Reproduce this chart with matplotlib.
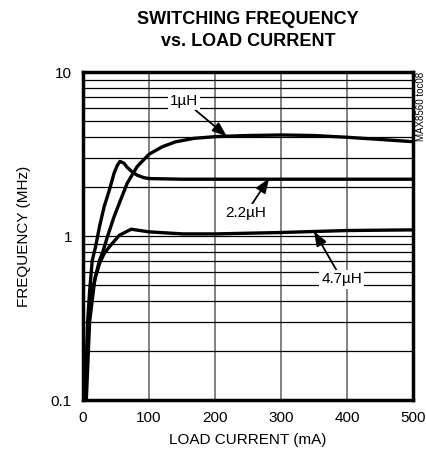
import matplotlib
matplotlib.use("Agg")
import matplotlib.pyplot as plt
from matplotlib.ticker import NullFormatter, LogLocator

# Data
i_1uH = [5, 10, 18, 25, 30, 37, 47, 57, 67, 82, 100, 120, 140, 168, 202, 250, 302, 350, 400, 450, 500]
f_1uH = [0.1, 0.3, 0.55, 0.71, 0.8, 0.99, 1.31, 1.66, 2.10, 2.65, 3.15, 3.5, 3.75, 3.94, 4.04, 4.10, 4.13, 4.10, 4.0, 3.88, 3.76]

i_22uH = [3, 7, 10, 14, 19, 25, 32, 40, 47, 52, 56, 62, 67, 75, 82, 92, 100, 150, 200, 300, 400, 500]
f_22uH = [0.1, 0.3, 0.46, 0.71, 0.86, 1.14, 1.51, 1.91, 2.41, 2.7, 2.85, 2.78, 2.62, 2.45, 2.35, 2.27, 2.24, 2.22, 2.22, 2.22, 2.22, 2.22]

i_47uH = [4, 7, 10, 15, 20, 25, 32, 40, 55, 73, 100, 151, 202, 298, 400, 500]
f_47uH = [0.1, 0.22, 0.35, 0.49, 0.58, 0.68, 0.78, 0.86, 1.01, 1.10, 1.06, 1.03, 1.03, 1.05, 1.08, 1.09]

x_ticks = [0, 100, 200, 300, 400, 500]
y_ticks = [0.1, 1, 10]
y_tick_labels = ["0.1", "1", "10"]

plt.rcParams['font.family'] = ['Liberation Sans Narrow', 'Liberation Sans', 'DejaVu Sans']

fig = plt.figure(figsize=(4.27, 4.61), dpi=100)
ax = fig.add_axes([0.1944, 0.1323, 0.7728, 0.7115])

ax.set_yscale('log')
ax.set_xlim(0, 500)
ax.set_ylim(0.1, 10)

ax.set_xticks(x_ticks)
ax.set_xticklabels([str(v) for v in x_ticks])
ax.set_yticks(y_ticks)
ax.set_yticklabels(y_tick_labels)
ax.yaxis.set_minor_locator(LogLocator(base=10, subs=range(2, 10)))
ax.yaxis.set_minor_formatter(NullFormatter())
ax.tick_params(axis='both', which='both', length=0, labelsize=11, pad=8)

ax.grid(True, axis='y', which='both', color='black', lw=0.9)
ax.grid(True, axis='x', which='major', color='#777777', lw=1.3)
ax.set_axisbelow(True)

for s in ax.spines.values():
    s.set_linewidth(2.5)

lw = 2.4
ax.plot(i_1uH, f_1uH, color='black', lw=lw, solid_capstyle='butt', zorder=3)
ax.plot(i_22uH, f_22uH, color='black', lw=lw, solid_capstyle='butt', zorder=3)
ax.plot(i_47uH, f_47uH, color='black', lw=lw, solid_capstyle='butt', zorder=3)

box = dict(boxstyle='square,pad=0.15', fc='white', ec='none')
arrowp = dict(arrowstyle='-|>,head_length=0.8,head_width=0.3', color='black', lw=1.3, shrinkA=0, shrinkB=0)

ax.annotate('1µH', xy=(218, 4.05), xytext=(153, 6.7), fontsize=11, ha='center', va='center',
            bbox=box, arrowprops=arrowp, zorder=5)
ax.annotate('2.2µH', xy=(282, 2.25), xytext=(247, 1.38), fontsize=11, ha='center', va='center',
            bbox=box, arrowprops=arrowp, zorder=5)
ax.annotate('4.7µH', xy=(350, 1.07), xytext=(392, 0.545), fontsize=11, ha='center', va='center',
            bbox=box, arrowprops=arrowp, zorder=5)

ax.set_xlabel('LOAD CURRENT (mA)', fontsize=11, labelpad=6)
ax.set_ylabel('FREQUENCY (MHz)', fontsize=11, labelpad=14)

fig.text(0.581, 0.976, 'SWITCHING FREQUENCY\nvs. LOAD CURRENT', ha='center', va='top',
         fontsize=13, fontweight='bold', linespacing=1.35)
fig.text(0.986, 0.8438, 'MAX8560 toc08', rotation=90, ha='center', va='top', fontsize=7)

fig.savefig('out.png', dpi=100)
